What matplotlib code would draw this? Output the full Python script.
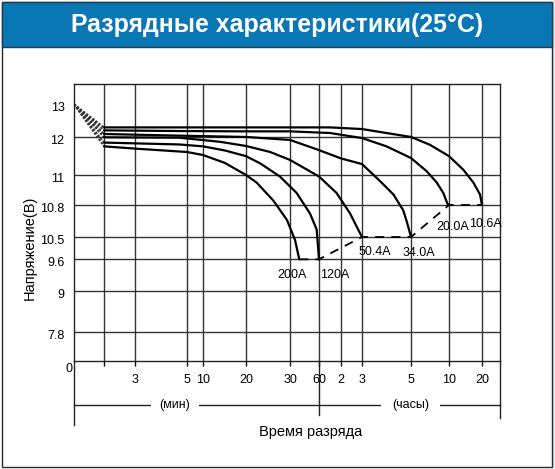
import numpy as np
import matplotlib
matplotlib.use("Agg")
import matplotlib.pyplot as plt
from matplotlib.patches import Rectangle
from matplotlib.transforms import ScaledTranslation

plt.rcParams['font.family'] = ['Liberation Sans', 'DejaVu Sans']

# time axis: minutes, and where each one sits on the (non-uniform) axis
time_ticks = [0, 1, 3, 5, 10, 20, 30, 60, 120, 180, 300, 600, 1200, 1800]
time_pos = [0, 30, 61, 113, 129, 172, 216, 245, 267, 288, 337, 375, 408, 426]
time_labels = ['', '3', '5', '10', '20', '30', '60', '2', '3', '5', '10', '20']

# voltage axis, also non-uniform
volt_ticks = [0, 7.8, 9, 9.6, 10.5, 10.8, 11, 12, 13, 13.6]
volt_pos = [0, 28.7, 69.7, 101.7, 124, 156, 186, 223.7, 256.7, 277]
volt_labels = ['0', '7.8', '9', '9.6', '10.5', '10.8', '11', '12', '13']

start_v = 13.0

currents = ['200A', '120A', '50.4A', '34.0A', '20.0A', '10.6A']
t_200 = [1, 3, 5, 10, 15.1, 20, 22.4, 26.2, 29.3, 35.2, 39.6]
v_200 = [11.76, 11.70, 11.61, 11.53, 11.32, 11.00, 10.95, 10.83, 10.66, 10.38, 9.60]
t_120 = [1, 4.7, 10, 15.1, 20, 23.2, 27.7, 36.9, 50.7, 57.6, 60]
v_120 = [11.86, 11.81, 11.76, 11.65, 11.50, 11.31, 10.99, 10.88, 10.72, 10.57, 9.60]
t_504 = [1, 4.7, 14, 20, 25.5, 30, 60, 108, 146, 169, 180]
v_504 = [12.00, 11.99, 11.88, 11.77, 11.61, 11.40, 10.99, 10.88, 10.72, 10.57, 10.50]
t_340 = [1, 4.7, 20, 30, 60, 120, 180, 224, 257, 281, 290, 300]
v_340 = [12.10, 12.05, 12.01, 11.93, 11.66, 11.44, 11.29, 10.96, 10.87, 10.75, 10.64, 10.50]
t_200h = [1, 4.7, 20, 30, 90, 180, 240, 300, 424, 503, 555, 587, 600]
v_200h = [12.21, 12.19, 12.18, 12.18, 12.13, 11.98, 11.76, 11.45, 11.10, 10.95, 10.88, 10.81, 10.80]
t_106 = [1, 30, 90, 180, 240, 300, 450, 600, 860, 1042, 1164, 1200]
v_106 = [12.30, 12.30, 12.30, 12.25, 12.13, 12.01, 11.80, 11.50, 11.14, 10.95, 10.87, 10.80]

times = [t_200, t_120, t_504, t_340, t_200h, t_106]
volts = [v_200, v_120, v_504, v_340, v_200h, v_106]

# label offsets from the end of each curve (pixels)
lab_dx = [-7, 16, 13, 8, 4, 3]
lab_dy = [-16, -16, -15, -16, -22, -19]


def fx(t):
    return np.interp(t, time_ticks, time_pos)


def fx_inv(p):
    return np.interp(p, time_pos, time_ticks)


def fy(v):
    return np.interp(v, volt_ticks, volt_pos)


def fy_inv(p):
    return np.interp(p, volt_pos, volt_ticks)


fig = plt.figure(figsize=(5.55, 4.69), dpi=100)
W, H = 555, 469

# frame, banner, title
fig.patches.append(Rectangle((552.5 / W, 0), 2.5 / W, 1, transform=fig.transFigure,
                             facecolor='#d6e6f2', edgecolor='none', zorder=-5))
fig.patches.append(Rectangle((2 / W, 2.3 / H), 550 / W, 464.7 / H, transform=fig.transFigure,
                             facecolor='none', edgecolor='#2a2a2a', lw=1, zorder=-4))
fig.patches.append(Rectangle((2 / W, 1 - 47 / H), 550 / W, 45 / H, transform=fig.transFigure,
                             facecolor='#0a77b5', edgecolor='#1c3c55', lw=1, zorder=-3))
fig.text(0.4988, 1 - 25 / H, 'Разрядные характеристики(25°C)', color='white',
         fontsize=17.9, fontweight='bold', ha='center', va='center')

ax = fig.add_axes([74 / W, 1 - 361 / H, 426 / W, 277 / H])
ax.set_xscale('function', functions=(fx, fx_inv))
ax.set_yscale('function', functions=(fy, fy_inv))
ax.set_xlim(time_ticks[0], time_ticks[-1])
ax.set_ylim(volt_ticks[0], volt_ticks[-1])

ax.set_xticks(time_ticks[1:-1], time_labels)
ax.set_yticks(volt_ticks[1:-2])
ax.minorticks_off()
ax.tick_params(axis='x', direction='out', length=3.6, width=1, pad=6, labelsize=9)
ax.tick_params(axis='y', length=0, labelleft=False)
ax.grid(True, color='#333333', lw=1)
for s in ax.spines.values():
    s.set_color('#222222')
    s.set_linewidth(1)

# y labels sit a bit below their grid lines
for v, lab in zip(volt_ticks[:-1], volt_labels):
    if lab == '0':
        off = ScaledTranslation(-5.5 / 100, -8 / 100, fig.dpi_scale_trans)
        ha = 'center'
    else:
        off = ScaledTranslation(-9.5 / 100, -4 / 100, fig.dpi_scale_trans)
        ha = 'right'
    ax.text(0, v, lab, transform=ax.get_yaxis_transform() + off,
            ha=ha, va='center', fontsize=9)

# curves
for name, t, v, dx, dy in zip(currents, times, volts, lab_dx, lab_dy):
    ax.plot([0, t[0]], [start_v, v[0]], color='#333333', lw=1.4, ls=(0, (1.2, 0.8)))
    ax.plot(t, v, color='black', lw=1.6, solid_capstyle='round', solid_joinstyle='round')
    ax.annotate(name, (t[-1], v[-1]), xytext=(dx, dy), textcoords='offset pixels',
                ha='center', va='center', fontsize=9, annotation_clip=False)

end_t = [t[-1] for t in times]
end_v = [v[-1] for v in volts]
ax.plot(end_t, end_v, color='black', lw=1.3, ls=(0, (5, 4)))

# time-unit ruler under the axis
ax.plot([0, 0], [0, -0.231], color='#222222', lw=1, transform=ax.transAxes, clip_on=False)
ax.plot([1, 1], [0, -0.206], color='#222222', lw=1, transform=ax.transAxes, clip_on=False)
ax.plot([60, 60], [0, -0.195], color='#222222', lw=1, transform=ax.get_xaxis_transform(),
        clip_on=False)
ax.plot([0, 1], [-0.159, -0.159], color='#222222', lw=1, transform=ax.transAxes, clip_on=False)
ax.text(0.237, -0.159, '(мин)', transform=ax.transAxes, ha='center', va='center', fontsize=9,
        bbox=dict(facecolor='white', edgecolor='none', pad=6))
ax.text(0.790, -0.159, '(часы)', transform=ax.transAxes, ha='center', va='center', fontsize=9,
        bbox=dict(facecolor='white', edgecolor='none', pad=8))
ax.text(0.556, -0.258, 'Время разряда', transform=ax.transAxes, ha='center', va='center',
        fontsize=10.5)

fig.text(30 / W, 1 - 247.5 / H, 'Напряжение(В)', rotation=90, ha='center', va='center',
         fontsize=10.5)

fig.savefig('out.png', dpi=100)
